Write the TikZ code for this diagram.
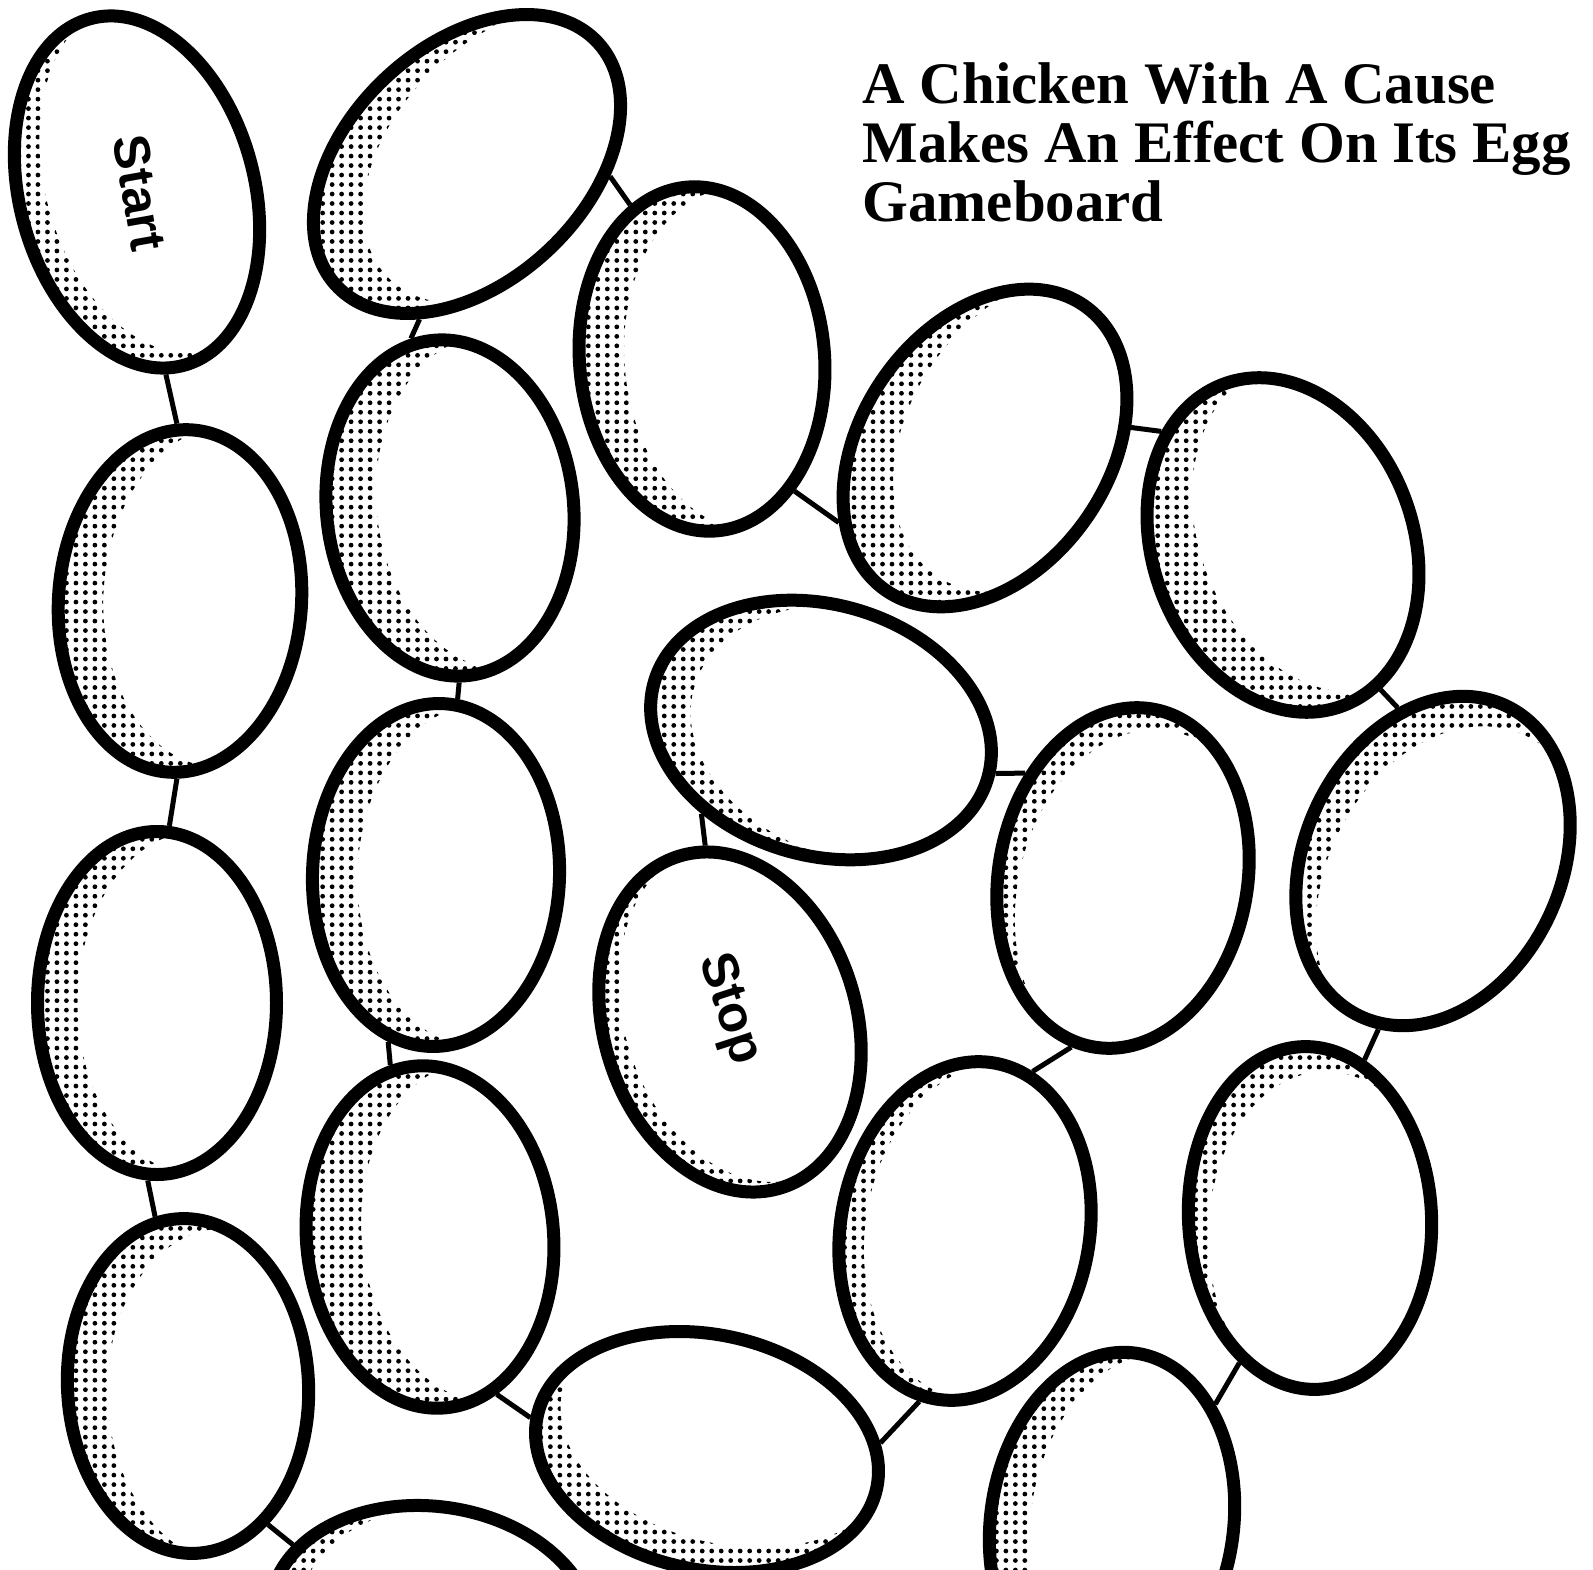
\documentclass[tikz,border=0pt]{standalone}
\usepackage{fontspec}
\setmainfont{Liberation Serif}
\setsansfont{Liberation Sans}
\usetikzlibrary{shapes.geometric,patterns.meta}

\begin{document}
\begin{tikzpicture}[
    x=0.1mm, y=-0.1mm,
    egg/.style={ellipse, draw=black, line width=1.3mm, fill=white, inner sep=0pt},
    stipple/.style={pattern={Dots[distance=2.7pt, radius=0.68pt]}, pattern color=black},
    link/.style={line width=0.5mm},
    eggtext/.style={font=\sffamily\bfseries\fontsize{14.5}{17}\selectfont, inner sep=0pt},
    heading/.style={font=\bfseries\fontsize{16.75}{16.8}\selectfont, align=left, inner sep=0pt, anchor=north west}
]
\clip (0,0) rectangle (1593,1570);

\foreach \n/\x/\y/\ra/\rb/\ang/\sx/\sy in {
    Start/137/192/186/124/105/25/-15,
    Egg1/180/601/178/128/86/45/-5,
    Egg2/157/1003/178/126/90/40/0,
    Egg3/188/1386/174/127/93/40/10,
    Egg4/432/1625/170/125/-8/30/0,
    Egg5/707/1452/180/124/-12/25/-25,
    Egg6/430/1237/178/130/95/55/-5,
    Egg7/436/875/178/130/88/45/0,
    Egg8/450/508/175/130/96/50/-5,
    Egg9/467/164/185/125/43/50/-10,
    Egg10/702/359/179/129/95/45/0,
    Egg11/985/448/180/130/55/50/-15,
    Egg12/1283/545/178/137/110/45/-20,
    Egg13/1433/861/178/135/65/20/30,
    Egg14/1310/1218/178/128/93/20/25,
    Egg15/1112/1523/178/128/82/40/0,
    Egg16/965/1231/177/131/80/25/0,
    Egg17/1123/878/178/131/80/18/22,
    Egg18/821/730/180/132/-16/40/5,
    Stop/730/1022/180/133/107/20/-10}{
\node[egg, minimum width={(2*\ra-13)*0.1mm}, minimum height={(2*\rb-13)*0.1mm}, rotate=\ang] (\n) at (\x,\y) {};
\begin{scope}
\clip (\n.center) ellipse [x radius={(\ra-6.5)*0.1mm}, y radius={(\rb-6.5)*0.1mm}, rotate=\ang];
\fill[stipple, even odd rule] (\n.center) ellipse [x radius={(\ra-6.5)*0.1mm}, y radius={(\rb-6.5)*0.1mm}, rotate=\ang]
    ([shift={(\sx,\sy)}]\n.center) ellipse [x radius={(\ra-6.5)*0.1mm}, y radius={(\rb-6.5)*0.1mm}, rotate=\ang];
\end{scope}
}

\node[eggtext, rotate=-80] (StartLabel) at (140,193) {Start};
\node[eggtext, rotate=-72] (StopLabel) at (729,1009) {Stop};
\node[heading] (Title) at (862,62) {A Chicken With A Cause\\Makes An Effect On Its Egg\\Gameboard};

\draw[link] (Start.174) -- (Egg1.5);
\draw[link] (Egg1.-177) -- (Egg2.-4);
\draw[link] (Egg2.177) -- (Egg3.8);
\draw[link] (Egg3.-153) -- (Egg4.158);
\draw[link] (Egg6.-162) -- (Egg5.181);
\draw[link] (Egg5.15) -- (Egg16.175);
\draw[link] (Egg7.166) -- (Egg6.8);
\draw[link] (Egg8.177) -- (Egg7.-5);
\draw[link] (Egg9.-150) -- (Egg8.7);
\draw[link] (Egg9.-48) -- (Egg10.20);
\draw[link] (Egg10.-150) -- (Egg11.152);
\draw[link] (Egg11.-47) -- (Egg12.27);
\draw[link] (Egg12.-166) -- (Egg13.38);
\draw[link] (Egg13.-173) -- (Egg14.-22);
\draw[link] (Egg14.151) -- (Egg15.-33);
\draw[link] (Egg16.-13) -- (Egg17.173);
\draw[link] (Egg17.53) -- (Egg18.2);
\draw[link] (Egg18.-129) -- (Stop.-9);
\end{tikzpicture}
\end{document}
